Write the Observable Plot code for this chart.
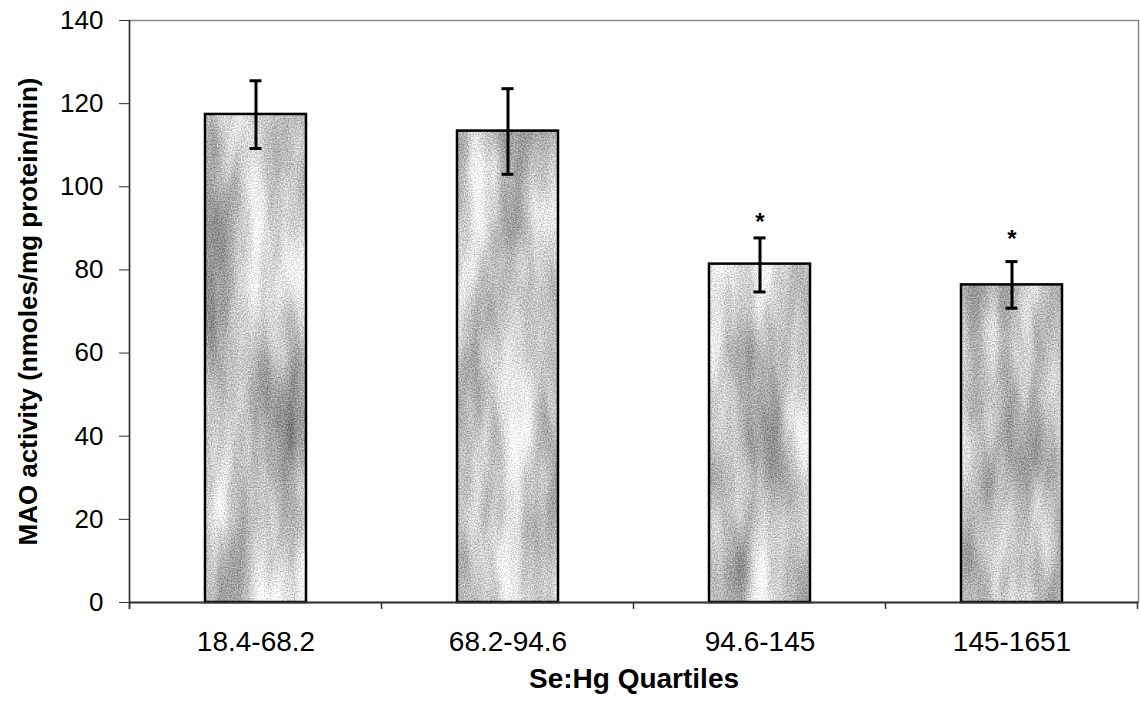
<!DOCTYPE html>
<html>
<head>
<meta charset="utf-8">
<script src="https://cdn.jsdelivr.net/npm/d3@7"></script>
<script src="https://cdn.jsdelivr.net/npm/@observablehq/plot@0.6"></script>
<style>
  html, body { margin: 0; padding: 0; background: white; }
  #chart { width: 1140px; height: 703px; }
</style>
</head>
<body>
<div id="chart"></div>
<script>
// ---- data ----
const categories = ["18.4-68.2", "68.2-94.6", "94.6-145", "145-1651"];
const means      = [117.4, 113.4, 81.4, 76.4];
const errLow     = [109.2, 103.0, 74.7, 70.8];
const errHigh    = [125.5, 123.6, 87.7, 82.0];
const sigLabels  = ["", "", "*", "*"];
const sigY       = [null, null, 92.8, 88.9];
const yTicks     = [0, 20, 40, 60, 80, 100, 120, 140];
const xTitle = "Se:Hg Quartiles";
const yTitle = "MAO activity (nmoles/mg protein/min)";

const data = categories.map((c, i) => ({
  cat: c, mean: means[i], lo: errLow[i], hi: errHigh[i], sig: sigLabels[i], sy: sigY[i]
}));

const font = "'Liberation Sans', Arial, Helvetica, sans-serif";

const plot = Plot.plot({
  width: 1140,
  height: 703,
  marginLeft: 129,
  marginRight: 2,
  marginTop: 20,
  marginBottom: 101,
  style: { fontFamily: font, fontSize: "26px", color: "black", background: "white", overflow: "visible" },
  x: { domain: categories, paddingInner: 0.6, paddingOuter: 0.3, label: null },
  y: { domain: [0, 140], label: null },
  marks: [
    Plot.frame({ stroke: "#8a8a8a", strokeWidth: 1.5 }),
    Plot.barY(data, { x: "cat", y: "mean", fill: "#c8c8c8", stroke: "black", strokeWidth: 2.5 }),
    Plot.ruleX(data, { x: "cat", y1: "lo", y2: "hi", stroke: "black", strokeWidth: 3 }),
    Plot.tickY(data, { x: "cat", y: "hi", stroke: "black", strokeWidth: 3, insetLeft: 44.5, insetRight: 44.5 }),
    Plot.tickY(data, { x: "cat", y: "lo", stroke: "black", strokeWidth: 3, insetLeft: 44.5, insetRight: 44.5 }),
    Plot.text(data.filter(d => d.sig), { x: "cat", y: "sy", text: "sig", fontWeight: "bold", fontSize: 24, dy: 6 }),
    Plot.axisY({ ticks: yTicks, tickSize: 10, tickPadding: 16, fontSize: 26, label: null, stroke: "#333" }),
    Plot.axisX({ tickSize: 0, tickPadding: 29, fontSize: 28, label: null }),
    Plot.ruleY([0], { stroke: "#333", strokeWidth: 2 }),
    Plot.text([yTitle], { text: d => d, frameAnchor: "left", textAnchor: "middle", dx: -101, rotate: -90, fontWeight: "bold", fontSize: 26 }),
    Plot.text([xTitle], { text: d => d, frameAnchor: "bottom", textAnchor: "middle", dy: 85, fontWeight: "bold", fontSize: 28 })
  ]
});

document.getElementById("chart").appendChild(plot);

// ---- mottled texture for the bars ----
const svg = d3.select(plot);
const defs = svg.insert("defs", ":first-child");
const f = defs.append("filter").attr("id", "mottleNoise")
  .attr("x", 0).attr("y", 0).attr("width", 1).attr("height", 1)
  .attr("color-interpolation-filters", "sRGB");
const opaque = "1 0 0 0 0  0 1 0 0 0  0 0 1 0 0  0 0 0 0 1";
f.append("feTurbulence").attr("type", "fractalNoise").attr("baseFrequency", "0.03 0.006")
  .attr("numOctaves", 3).attr("seed", 11).attr("result", "lowRaw");
f.append("feColorMatrix").attr("in", "lowRaw").attr("type", "matrix").attr("values", opaque).attr("result", "low");
f.append("feTurbulence").attr("type", "fractalNoise").attr("baseFrequency", "0.7")
  .attr("numOctaves", 1).attr("seed", 5).attr("result", "grainRaw");
f.append("feColorMatrix").attr("in", "grainRaw").attr("type", "matrix").attr("values", opaque).attr("result", "grain");
f.append("feComposite").attr("in", "low").attr("in2", "grain").attr("operator", "arithmetic")
  .attr("k1", 0).attr("k2", 0.7).attr("k3", 0.6).attr("k4", 0.12).attr("result", "mix");
f.append("feColorMatrix").attr("in", "mix").attr("type", "matrix")
  .attr("values", "1 0 0 0 0  1 0 0 0 0  1 0 0 0 0  0 0 0 0 1");
const pat = defs.append("pattern").attr("id", "mottle").attr("patternUnits", "userSpaceOnUse")
  .attr("width", 1140).attr("height", 703);
pat.append("rect").attr("width", 1140).attr("height", 703).attr("fill", "#c8c8c8").attr("filter", "url(#mottleNoise)");
svg.selectAll('g[aria-label="bar"]').attr("fill", "url(#mottle)");
svg.selectAll('g[aria-label="bar"] rect').attr("fill", "url(#mottle)");

// ---- left axis line and category boundary ticks, placed with the plot's own scales ----
const xs = plot.scale("x");
const ys = plot.scale("y");
const y0 = ys.apply(0), yTop = ys.apply(140);
const gap = (xs.step - xs.bandwidth) / 2;
const bounds = categories.map(c => xs.apply(c) - gap);
bounds.push(xs.apply(categories[categories.length - 1]) + xs.bandwidth + gap);
const g = svg.append("g").attr("stroke", "#333").attr("stroke-width", 1.5);
g.append("line").attr("x1", bounds[0]).attr("x2", bounds[0]).attr("y1", yTop).attr("y2", y0 + 7);
bounds.forEach(b => g.append("line").attr("x1", b).attr("x2", b).attr("y1", y0).attr("y2", y0 + 7));
</script>
</body>
</html>
